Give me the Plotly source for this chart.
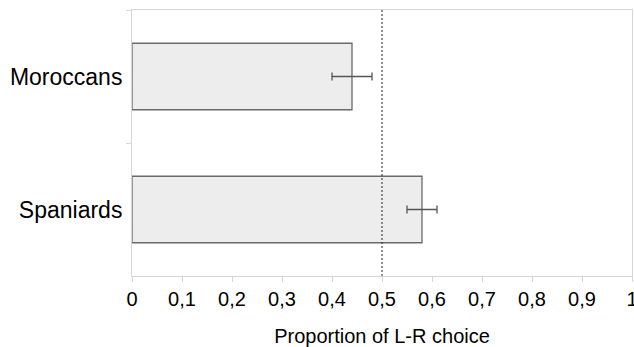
import plotly.graph_objects as go

groups = ["Moroccans", "Spaniards"]
proportions = [0.44, 0.58]
errors = [0.04, 0.03]
chance_level = 0.5
x_ticks = [0, 0.1, 0.2, 0.3, 0.4, 0.5, 0.6, 0.7, 0.8, 0.9, 1]
x_tick_labels = ["0", "0,1", "0,2", "0,3", "0,4", "0,5", "0,6", "0,7", "0,8", "0,9", "1"]

fig = go.Figure()
fig.add_trace(go.Bar(
    y=groups, x=proportions, orientation="h", width=0.5,
    marker=dict(color="#ededed", line=dict(color="#6b6b6b", width=1.3)),
    error_x=dict(type="data", array=errors, color="#555555", thickness=1.3, width=4),
    showlegend=False,
))
fig.add_shape(type="line", x0=chance_level, x1=chance_level, y0=0, y1=1,
              xref="x", yref="paper", line=dict(color="#222222", width=1, dash="2px,2px"))

fig.update_layout(
    width=634, height=347,
    margin=dict(l=132, r=2, t=10, b=71),
    paper_bgcolor="white", plot_bgcolor="white",
    font=dict(family="Liberation Sans, Arial, sans-serif", color="#000000"),
    xaxis=dict(range=[0, 1], tickvals=x_ticks, ticktext=x_tick_labels,
               showgrid=False, zeroline=False, showline=True, mirror=True,
               linecolor="#d6d6d6", linewidth=1, ticks="outside", ticklen=5,
               tickcolor="#d6d6d6", tickfont=dict(size=20), automargin=False,
               ticklabeloverflow="allow",
               title=dict(text="Proportion of L-R choice", font=dict(size=20), standoff=22)),
    yaxis=dict(autorange="reversed", tickson="boundaries", showgrid=False,
               showline=True, mirror=True, linecolor="#d6d6d6", linewidth=1,
               ticks="outside", ticklen=5, tickcolor="#d6d6d6", automargin=False,
               ticklabelstandoff=4, tickfont=dict(size=23)),
)
fig.write_html("out.html", config={"displayModeBar": False},
               post_script="document.body.style.margin='0';document.body.style.overflow='hidden';")
